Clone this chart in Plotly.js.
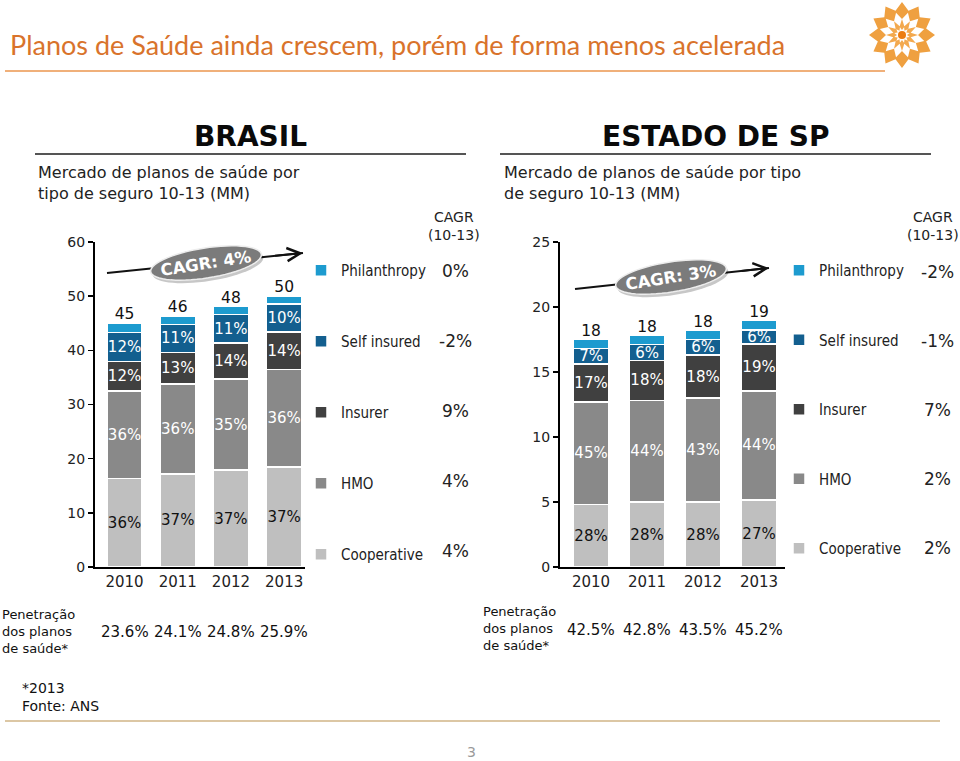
<!DOCTYPE html>
<html>
<head>
<meta charset="utf-8">
<script src="https://cdn.plot.ly/plotly-3.0.1.min.js"></script>
<style>
  html, body { margin: 0; padding: 0; background: #ffffff; }
  #chart { width: 960px; height: 761px; }
</style>
</head>
<body>
<div id="chart"></div>
<script>
// ---------------- DATA ----------------
const years = ['2010', '2011', '2012', '2013'];
const segmentNames = ['Cooperative', 'HMO', 'Insurer', 'Self insured', 'Philanthropy'];

// BRASIL – market by insurance type (MM beneficiaries)
const brCooperative  = [16.3, 17.2, 17.9, 18.5];
const brHMO          = [16.2, 16.6, 16.8, 18.0];
const brInsurer      = [5.4, 5.8, 6.7, 6.9];
const brSelfInsured  = [5.4, 5.2, 5.2, 5.2];
const brPhilanthropy = [1.7, 1.5, 1.5, 1.4];
const brCooperativePct = ['36%', '37%', '37%', '37%'];
const brHMOPct         = ['36%', '36%', '35%', '36%'];
const brInsurerPct     = ['12%', '13%', '14%', '14%'];
const brSelfPct        = ['12%', '11%', '11%', '10%'];
const brTotals         = ['45', '46', '48', '50'];
const brCagr           = ['0%', '-2%', '9%', '4%', '4%'];   // Philanthropy, Self insured, Insurer, HMO, Cooperative
const brCagrTotal      = 'CAGR: 4%';
const brPenetration    = ['23.6%', '24.1%', '24.8%', '25.9%'];

// ESTADO DE SP
const spCooperative  = [4.8, 5.0, 5.0, 5.15];
const spHMO          = [7.9, 7.8, 8.0, 8.4];
const spInsurer      = [2.9, 3.1, 3.3, 3.6];
const spSelfInsured  = [1.2, 1.2, 1.2, 1.1];
const spPhilanthropy = [0.7, 0.7, 0.7, 0.7];
const spCooperativePct = ['28%', '28%', '28%', '27%'];
const spHMOPct         = ['45%', '44%', '43%', '44%'];
const spInsurerPct     = ['17%', '18%', '18%', '19%'];
const spSelfPct        = ['7%', '6%', '6%', '6%'];
const spTotals         = ['18', '18', '18', '19'];
const spCagr           = ['-2%', '-1%', '7%', '2%', '2%'];
const spCagrTotal      = 'CAGR: 3%';
const spPenetration    = ['42.5%', '42.8%', '43.5%', '45.2%'];

// ---------------- STYLE ----------------
const W = 960, H = 761;
const FONT = 'DejaVu Sans, Verdana, sans-serif';
const colors = {
  'Cooperative': '#bfbfbf',
  'HMO': '#898989',
  'Insurer': '#404040',
  'Self insured': '#135f8f',
  'Philanthropy': '#1d9bcf'
};
const textColors = {
  'Cooperative': '#111111',
  'HMO': '#ffffff',
  'Insurer': '#ffffff',
  'Self insured': '#ffffff',
  'Philanthropy': '#ffffff'
};
const px = (x) => x / W;
const py = (y) => 1 - y / H;

function sumArrays(arrs) {
  return arrs[0].map((_, i) => arrs.reduce((s, a) => s + a[i], 0));
}

function barTraces(valuesList, labelsList, xa, ya, legendName, prefix, barWidth) {
  return valuesList.map((vals, k) => {
    const name = segmentNames[k];
    return {
      type: 'bar',
      name: name,
      x: years,
      y: vals,
      xaxis: xa,
      yaxis: ya,
      width: barWidth,
      legend: legendName,
      legendgroup: prefix + k,
      legendrank: 10 - k,
      marker: { color: colors[name], line: { color: '#ffffff', width: 1.5 } },
      text: labelsList[k],
      textposition: 'inside',
      insidetextanchor: 'middle',
      textangle: 0,
      constraintext: 'none',
      cliponaxis: false,
      insidetextfont: { family: FONT, size: 15, color: textColors[name] },
      hoverinfo: 'x+y+name'
    };
  });
}

const brVals = [brCooperative, brHMO, brInsurer, brSelfInsured, brPhilanthropy];
const brLabels = [brCooperativePct, brHMOPct, brInsurerPct, brSelfPct, ['', '', '', '']];
const spVals = [spCooperative, spHMO, spInsurer, spSelfInsured, spPhilanthropy];
const spLabels = [spCooperativePct, spHMOPct, spInsurerPct, spSelfPct, ['', '', '', '']];

const traces = []
  .concat(barTraces(brVals, brLabels, 'x', 'y', 'legend', 'br', 0.66))
  .concat(barTraces(spVals, spLabels, 'x2', 'y2', 'legend2', 'sp', 0.625));

traces.push({
  type: 'scatter', mode: 'text', x: years, y: sumArrays(brVals), text: brTotals,
  textposition: 'top center', textfont: { family: FONT, size: 15.5, color: '#111' },
  xaxis: 'x', yaxis: 'y', showlegend: false, hoverinfo: 'skip', cliponaxis: false
});
traces.push({
  type: 'scatter', mode: 'text', x: years, y: sumArrays(spVals), text: spTotals,
  textposition: 'top center', textfont: { family: FONT, size: 15.5, color: '#111' },
  xaxis: 'x2', yaxis: 'y2', showlegend: false, hoverinfo: 'skip', cliponaxis: false
});

// ---------------- DECORATION ----------------
const shapes = [];
const annotations = [];

function ellipsePath(cx, cy, a, b, angDeg) {
  const t = angDeg * Math.PI / 180;
  let d = '';
  for (let i = 0; i <= 60; i++) {
    const th = 2 * Math.PI * i / 60;
    const ex = a * Math.cos(th), ey = b * Math.sin(th);
    const X = cx + ex * Math.cos(t) - ey * Math.sin(t);
    const Y = cy + ex * Math.sin(t) + ey * Math.cos(t);
    d += (i === 0 ? 'M' : 'L') + px(X).toFixed(5) + ',' + py(Y).toFixed(5);
  }
  return d + 'Z';
}
function starPath(cx, cy, R, r, n, rot) {
  let d = '';
  for (let i = 0; i < 2 * n; i++) {
    const rad = i % 2 === 0 ? R : r;
    const th = rot + Math.PI * i / n;
    const X = cx + rad * Math.cos(th), Y = cy + rad * Math.sin(th);
    d += (i === 0 ? 'M' : 'L') + px(X).toFixed(5) + ',' + py(Y).toFixed(5);
  }
  return d + 'Z';
}
function line(x0, y0, x1, y1, color, width) {
  shapes.push({ type: 'line', xref: 'paper', yref: 'paper', x0: px(x0), y0: py(y0), x1: px(x1), y1: py(y1),
    line: { color: color, width: width } });
}
function text(x, y, t, size, opts) {
  annotations.push(Object.assign({
    xref: 'paper', yref: 'paper', x: px(x), y: py(y), text: t, showarrow: false,
    xanchor: 'left', yanchor: 'middle', align: 'left', font: { family: FONT, size: size, color: '#111' }
  }, opts || {}));
}

// page title & rule
text(8, 45, 'Planos de Saúde ainda crescem, porém de forma menos acelerada', 27,
  { font: { family: 'Lato, Open Sans, sans-serif', size: 27, color: '#d9732b' } });
line(5, 71, 885, 71, '#f0b07a', 2);

// logo rosette
shapes.push({ type: 'path', xref: 'paper', yref: 'paper', path: starPath(902, 35, 33, 25, 12, -Math.PI / 2), fillcolor: '#efa040', line: { width: 0 } });
shapes.push({ type: 'path', xref: 'paper', yref: 'paper', path: starPath(902, 35, 23, 16, 12, -Math.PI / 2 + Math.PI / 12), fillcolor: '#ffffff', line: { width: 0 } });
shapes.push({ type: 'path', xref: 'paper', yref: 'paper', path: starPath(902, 35, 16, 9, 12, -Math.PI / 2), fillcolor: '#f3a94e', line: { width: 0 } });
shapes.push({ type: 'path', xref: 'paper', yref: 'paper', path: starPath(902, 35, 8, 5, 12, -Math.PI / 2 + Math.PI / 12), fillcolor: '#ffffff', line: { width: 0 } });
shapes.push({ type: 'circle', xref: 'paper', yref: 'paper', x0: px(898), x1: px(906), y0: py(39), y1: py(31), fillcolor: '#ec7d12', line: { width: 0 } });

// section headers
text(250, 136, '<b>BRASIL</b>', 28, { xanchor: 'center', align: 'center', font: { family: FONT, size: 28, color: '#0a0a0a' } });
text(716, 136, '<b>ESTADO DE SP</b>', 28, { xanchor: 'center', align: 'center', font: { family: FONT, size: 28, color: '#0a0a0a' } });
line(35, 154, 466, 154, '#555555', 2);
line(500, 154, 931, 154, '#555555', 2);

// subtitles
text(36, 183, 'Mercado de planos de saúde por<br>tipo de seguro 10-13 (MM)', 16, { font: { family: FONT, size: 16, color: '#222' } });
text(502, 183, 'Mercado de planos de saúde por tipo<br>de seguro 10-13 (MM)', 16, { font: { family: FONT, size: 16, color: '#222' } });

// CAGR headers and values
text(454, 226, 'CAGR<br>(10-13)', 14, { xanchor: 'center', align: 'center', font: { family: FONT, size: 14, color: '#222' } });
text(933, 226, 'CAGR<br>(10-13)', 14, { xanchor: 'center', align: 'center', font: { family: FONT, size: 14, color: '#222' } });
brCagr.forEach((v, i) => text(455, 271 + i * 70, v, 17, { xanchor: 'center', align: 'center', font: { family: FONT, size: 17, color: '#222' } }));
spCagr.forEach((v, i) => text(937, 272 + i * 69, v, 17, { xanchor: 'center', align: 'center', font: { family: FONT, size: 17, color: '#222' } }));

// CAGR ellipses and arrows
function cagrBadge(tail, head, center, label) {
  // shaft under the badge
  line(tail[0], tail[1], head[0], head[1], '#111', 2);
  // arrow head
  const fx = head[0] - 0.15 * (head[0] - tail[0]);
  const fy = head[1] - 0.15 * (head[1] - tail[1]);
  annotations.push({
    xref: 'paper', yref: 'paper', x: px(head[0]), y: py(head[1]),
    ax: fx - head[0], ay: fy - head[1], axref: 'pixel', ayref: 'pixel',
    text: '', showarrow: true, arrowhead: 5, arrowsize: 1.3, arrowwidth: 2, arrowcolor: '#111', standoff: 0
  });
  shapes.push({ type: 'path', xref: 'paper', yref: 'paper', path: ellipsePath(center[0] + 2, center[1] + 3, 56, 15, -9),
    fillcolor: 'rgba(0,0,0,0.22)', line: { width: 0 } });
  shapes.push({ type: 'path', xref: 'paper', yref: 'paper', path: ellipsePath(center[0], center[1], 56, 15, -9),
    fillcolor: '#7b7b7b', line: { color: '#ededed', width: 1.5 } });
  text(center[0], center[1], '<b>' + label + '</b>', 16,
    { xanchor: 'center', align: 'center', textangle: -9, font: { family: FONT, size: 16.5, color: '#ffffff' } });
}
cagrBadge([107, 273], [303, 253], [206, 263], brCagrTotal);
cagrBadge([575, 289], [769, 268], [671, 277], spCagrTotal);

// penetration rows
text(0, 631, 'Penetração<br>dos planos<br>de saúde*', 13, { font: { family: FONT, size: 13, color: '#111' } });
text(481, 628, 'Penetração<br>dos planos<br>de saúde*', 13, { font: { family: FONT, size: 13, color: '#111' } });
brPenetration.forEach((v, i) => annotations.push({
  xref: 'x', yref: 'paper', x: i, y: py(632), text: v, showarrow: false, xanchor: 'center', yanchor: 'middle',
  font: { family: FONT, size: 15, color: '#111' }
}));
spPenetration.forEach((v, i) => annotations.push({
  xref: 'x2', yref: 'paper', x: i, y: py(630), text: v, showarrow: false, xanchor: 'center', yanchor: 'middle',
  font: { family: FONT, size: 15, color: '#111' }
}));

// footnote, footer rule, page number
text(20, 697, '*2013<br>Fonte: ANS', 14, { font: { family: FONT, size: 14, color: '#111' } });
line(5, 721, 940, 721, '#dcc7a4', 2);
text(471, 752, '3', 14, { xanchor: 'center', align: 'center', font: { family: FONT, size: 14, color: '#9a9a9a' } });

// ---------------- AXES & LAYOUT ----------------
const yDomain = [py(567), py(242)];
function yAxis(max, dtick) {
  return {
    domain: yDomain, range: [0, max], dtick: dtick, tick0: 0,
    showgrid: false, zeroline: false, showline: true, linecolor: '#000', linewidth: 2,
    ticks: 'outside', ticklen: 5, tickwidth: 1.5, tickcolor: '#000',
    tickfont: { family: FONT, size: 14, color: '#222' }, fixedrange: true
  };
}
function xAxis(domain, range) {
  return {
    domain: domain, range: range, type: 'category',
    showgrid: false, zeroline: false, showline: true, linecolor: '#000', linewidth: 2,
    ticks: '', tickfont: { family: FONT, size: 15, color: '#222' }, fixedrange: true
  };
}
const legendFont = { family: 'DejaVu Sans Condensed, DejaVu Sans, sans-serif', size: 15, color: '#222' };

const layout = {
  width: W, height: H,
  margin: { l: 0, r: 0, t: 0, b: 0, pad: 0 },
  paper_bgcolor: '#ffffff', plot_bgcolor: 'rgba(0,0,0,0)',
  barmode: 'stack',
  showlegend: true,
  xaxis: Object.assign(xAxis([px(95), px(305)], [-0.555, 3.392]), { anchor: 'y' }),
  yaxis: Object.assign(yAxis(60, 10), { anchor: 'x' }),
  xaxis2: Object.assign(xAxis([px(560), px(785)], [-0.554, 3.464]), { anchor: 'y2' }),
  yaxis2: Object.assign(yAxis(25, 5), { anchor: 'x2' }),
  legend: {
    x: px(301), xanchor: 'left', y: py(254), yanchor: 'top',
    traceorder: 'grouped', tracegroupgap: 48.5, font: legendFont,
    bgcolor: 'rgba(0,0,0,0)', borderwidth: 0, itemclick: false, itemdoubleclick: false
  },
  legend2: {
    x: px(779), xanchor: 'left', y: py(254), yanchor: 'top',
    traceorder: 'grouped', tracegroupgap: 47, font: legendFont,
    bgcolor: 'rgba(0,0,0,0)', borderwidth: 0, itemclick: false, itemdoubleclick: false
  },
  shapes: shapes,
  annotations: annotations,
  font: { family: FONT, color: '#222' }
};

Plotly.newPlot('chart', traces, layout, { displayModeBar: false, staticPlot: true });
</script>
</body>
</html>
